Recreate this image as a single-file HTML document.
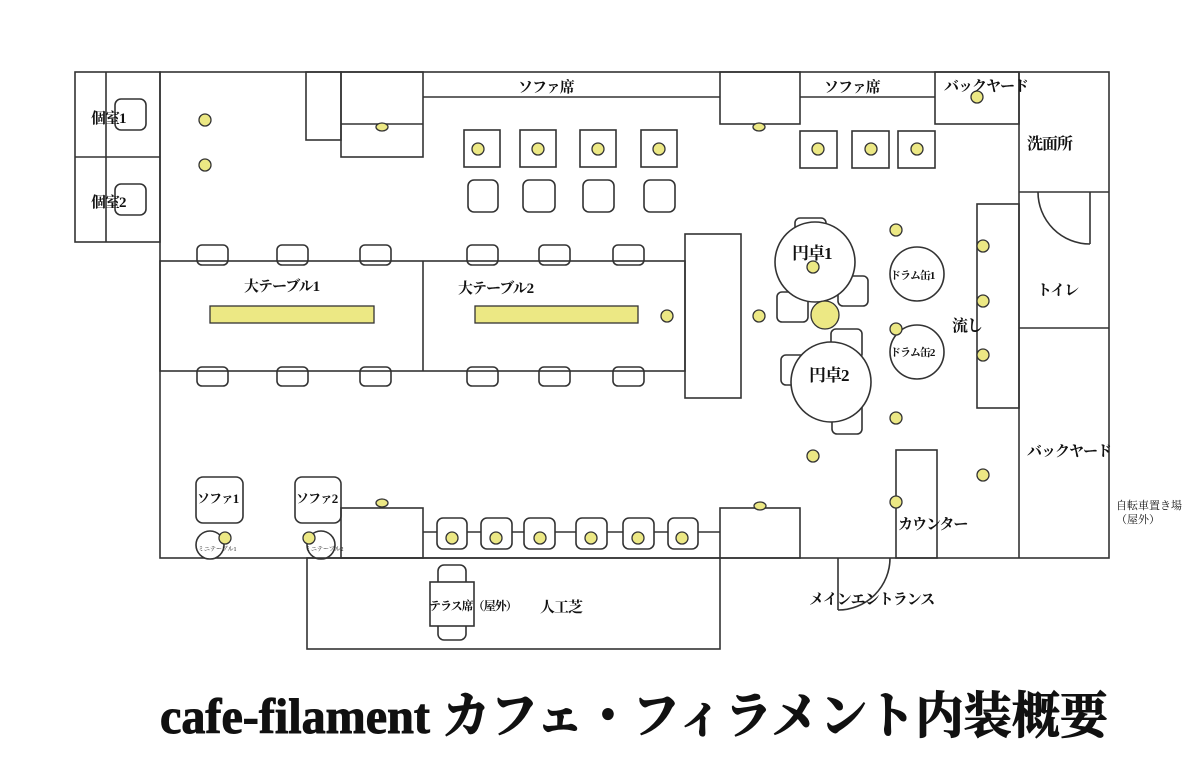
<!DOCTYPE html>
<html><head><meta charset="utf-8"><style>
body{margin:0;background:#fff;width:1192px;height:763px;overflow:hidden}
svg{display:block}
text{font-family:"Liberation Serif","Noto Serif CJK SC",serif;fill:#111}
</style></head><body>
<svg width="1192" height="763" viewBox="0 0 1192 763" xmlns="http://www.w3.org/2000/svg">
<g fill="none" stroke="#333" stroke-width="1.6">
<rect x="160" y="72" width="949" height="486"/>
<rect x="75" y="72" width="85" height="170"/>
<line x1="106" y1="72" x2="106" y2="242"/>
<line x1="75" y1="157" x2="160" y2="157"/>
<rect x="115" y="99" width="31" height="31" rx="6"/>
<rect x="115" y="184" width="31" height="31" rx="6"/>
<rect x="306" y="72" width="35" height="68"/>
<rect x="341" y="72" width="82" height="85"/>
<line x1="341" y1="124" x2="423" y2="124"/>
<line x1="423" y1="97" x2="720" y2="97"/>
<rect x="720" y="72" width="80" height="52"/>
<line x1="800" y1="97" x2="935" y2="97"/>
<rect x="935" y="72" width="84" height="52"/>
<line x1="1019" y1="72" x2="1019" y2="558"/>
<line x1="1019" y1="192" x2="1109" y2="192"/>
<line x1="1019" y1="328" x2="1109" y2="328"/>
<line x1="1090" y1="192" x2="1090" y2="244"/>
<path d="M1038 192 A52 52 0 0 0 1090 244"/>
<rect x="977" y="204" width="42" height="204"/>
<rect x="896" y="450" width="41" height="108"/>
<line x1="838" y1="558" x2="838" y2="610"/>
<path d="M890 558 A52 52 0 0 1 838 610"/>
<rect x="160" y="261" width="525" height="110"/>
<line x1="423" y1="261" x2="423" y2="371"/>
<rect x="685" y="234" width="56" height="164"/>
<g>
<rect x="197" y="245" width="31" height="20" rx="5"/><rect x="277" y="245" width="31" height="20" rx="5"/><rect x="360" y="245" width="31" height="20" rx="5"/>
<rect x="467" y="245" width="31" height="20" rx="5"/><rect x="539" y="245" width="31" height="20" rx="5"/><rect x="613" y="245" width="31" height="20" rx="5"/>
<rect x="197" y="367" width="31" height="19" rx="5"/><rect x="277" y="367" width="31" height="19" rx="5"/><rect x="360" y="367" width="31" height="19" rx="5"/>
<rect x="467" y="367" width="31" height="19" rx="5"/><rect x="539" y="367" width="31" height="19" rx="5"/><rect x="613" y="367" width="31" height="19" rx="5"/>
</g>
<rect x="464" y="130" width="36" height="37"/><rect x="520" y="130" width="36" height="37"/><rect x="580" y="130" width="36" height="37"/><rect x="641" y="130" width="36" height="37"/>
<rect x="468" y="180" width="30" height="32" rx="6"/><rect x="523" y="180" width="32" height="32" rx="6"/><rect x="583" y="180" width="31" height="32" rx="6"/><rect x="644" y="180" width="31" height="32" rx="6"/>
<rect x="800" y="131" width="37" height="37"/><rect x="852" y="131" width="37" height="37"/><rect x="898" y="131" width="37" height="37"/>
<rect x="795" y="218" width="31" height="30" rx="5" fill="#fff"/>
<rect x="838" y="276" width="30" height="30" rx="5" fill="#fff"/>
<rect x="777" y="292" width="31" height="30" rx="5" fill="#fff"/>
<rect x="831" y="329" width="31" height="30" rx="5" fill="#fff"/>
<rect x="781" y="355" width="30" height="30" rx="5" fill="#fff"/>
<rect x="832" y="402" width="30" height="32" rx="5" fill="#fff"/>
<circle cx="815" cy="262" r="40" fill="#fff"/>
<circle cx="831" cy="382" r="40" fill="#fff"/>
<circle cx="917" cy="274" r="27"/>
<circle cx="917" cy="352" r="27"/>
<rect x="196" y="477" width="47" height="46" rx="7"/>
<rect x="295" y="477" width="46" height="46" rx="7"/>
<circle cx="210" cy="545" r="14" fill="#fff"/>
<circle cx="321" cy="545" r="14" fill="#fff"/>
<rect x="341" y="508" width="82" height="50"/>
<rect x="720" y="508" width="80" height="50"/>
<line x1="423" y1="532" x2="720" y2="532"/>
<g fill="#fff">
<rect x="437" y="518" width="30" height="31" rx="6"/><rect x="481" y="518" width="31" height="31" rx="6"/><rect x="524" y="518" width="31" height="31" rx="6"/>
<rect x="576" y="518" width="31" height="31" rx="6"/><rect x="623" y="518" width="31" height="31" rx="6"/><rect x="668" y="518" width="30" height="31" rx="6"/>
</g>
<rect x="307" y="558" width="413" height="91"/>
<rect x="438" y="565" width="28" height="75" rx="6" fill="#fff"/>
<rect x="430" y="582" width="44" height="44" fill="#fff"/>
</g>
<g fill="#ece884" stroke="#333" stroke-width="1.3">
<rect x="210" y="306" width="164" height="17"/>
<rect x="475" y="306" width="163" height="17"/>
<circle cx="205" cy="120" r="6"/><circle cx="205" cy="165" r="6"/>
<ellipse cx="382" cy="127" rx="6" ry="4"/><ellipse cx="759" cy="127" rx="6" ry="4"/>
<ellipse cx="382" cy="503" rx="6" ry="4"/><ellipse cx="760" cy="506" rx="6" ry="4"/>
<circle cx="478" cy="149" r="6"/><circle cx="538" cy="149" r="6"/><circle cx="598" cy="149" r="6"/><circle cx="659" cy="149" r="6"/>
<circle cx="818" cy="149" r="6"/><circle cx="871" cy="149" r="6"/><circle cx="917" cy="149" r="6"/>
<circle cx="977" cy="97" r="6"/>
<circle cx="813" cy="267" r="6"/><circle cx="825" cy="315" r="14"/>
<circle cx="759" cy="316" r="6"/><circle cx="667" cy="316" r="6"/>
<circle cx="896" cy="230" r="6"/><circle cx="896" cy="329" r="6"/>
<circle cx="983" cy="246" r="6"/><circle cx="983" cy="301" r="6"/><circle cx="983" cy="355" r="6"/>
<circle cx="896" cy="418" r="6"/><circle cx="813" cy="456" r="6"/><circle cx="983" cy="475" r="6"/><circle cx="896" cy="502" r="6"/>
<circle cx="225" cy="538" r="6"/><circle cx="309" cy="538" r="6"/>
<circle cx="452" cy="538" r="6"/><circle cx="496" cy="538" r="6"/><circle cx="540" cy="538" r="6"/>
<circle cx="591" cy="538" r="6"/><circle cx="638" cy="538" r="6"/><circle cx="682" cy="538" r="6"/>
</g>
<g font-size="15" font-weight="bold" letter-spacing="-1">
<text x="91" y="123">個室1</text>
<text x="91" y="207">個室2</text>
<text x="518" y="92">ソファ席</text>
<text x="824" y="92">ソファ席</text>
<text x="944" y="91">バックヤード</text>
<text x="1027" y="149" font-size="16">洗面所</text>
<text x="1037" y="295">トイレ</text>
<text x="1027" y="456">バックヤード</text>
<text x="244" y="291">大テーブル1</text>
<text x="458" y="293">大テーブル2</text>
<text x="792" y="259" font-size="17">円卓1</text>
<text x="809" y="381" font-size="17">円卓2</text>
<text x="952" y="331" font-size="16">流し</text>
<text x="898" y="529">カウンター</text>
<text x="809" y="604">メインエントランス</text>
<text x="540" y="612">人工芝</text>
</g>
<g font-size="11" font-weight="bold" letter-spacing="-1">
<text x="890" y="279">ドラム缶1</text>
<text x="890" y="356">ドラム缶2</text>
<text x="197" y="503" font-size="13">ソファ1</text>
<text x="296" y="503" font-size="13">ソファ2</text>
<text x="429" y="610" font-size="12">テラス席（屋外）</text>
</g>
<text x="198" y="551" font-size="6">ミニテーブル1</text>
<text x="305" y="551" font-size="6">ミニテーブル2</text>
<text x="1116" y="509" font-size="11">自転車置き場</text>
<text x="1116" y="523" font-size="11">（屋外）</text>
<text x="160" y="733" font-size="50" font-weight="bold" textLength="948" lengthAdjust="spacingAndGlyphs" stroke="#111" stroke-width="1">cafe-filament カフェ・フィラメント内装概要</text>
</svg>
</body></html>
